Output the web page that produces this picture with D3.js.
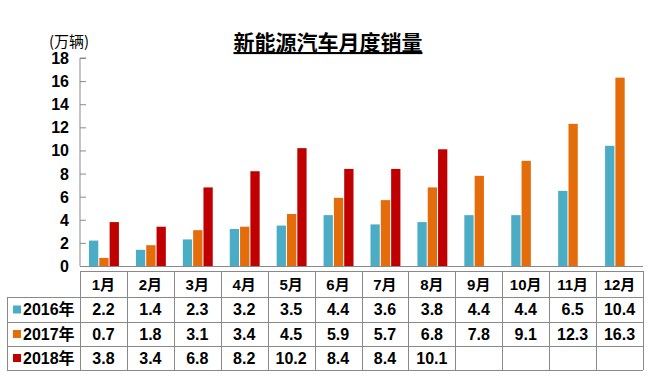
<!DOCTYPE html>
<meta charset="utf-8">
<title>新能源汽车月度销量</title>
<style>
  body { margin: 0; background: #fff; }
  text { font-family: "Liberation Sans", Arial, "Noto Sans CJK SC", sans-serif; }
</style>
<script src="https://cdn.jsdelivr.net/npm/d3@7"></script>
<body>
<div id="chart"></div>
<script>

// data
var months = ["1月","2月","3月","4月","5月","6月","7月","8月","9月","10月","11月","12月"];
var seriesNames = ["2016年", "2017年", "2018年"];
var sales2016 = [2.2, 1.4, 2.3, 3.2, 3.5, 4.4, 3.6, 3.8, 4.4, 4.4, 6.5, 10.4];
var sales2017 = [0.7, 1.8, 3.1, 3.4, 4.5, 5.9, 5.7, 6.8, 7.8, 9.1, 12.3, 16.3];
var sales2018 = [3.8, 3.4, 6.8, 8.2, 10.2, 8.4, 8.4, 10.1];
var yTicks = [0, 2, 4, 6, 8, 10, 12, 14, 16, 18];
var colors = ["#4bacc6", "#e46c0a", "#c00000"];

var allSeries = [sales2016, sales2017, sales2018];

var width = 655, height = 379;
var plot = {left: 80, right: 643, top: 58, bottom: 266};

var svg = d3.select("#chart").append("svg")
    .attr("width", width)
    .attr("height", height);

// title
svg.append("text")
    .attr("x", 328).attr("y", 50)
    .attr("text-anchor", "middle")
    .style("font-family", "'Noto Sans CJK SC', sans-serif")
    .style("font-size", "21px")
    .style("font-weight", "bold")
    .style("text-decoration", "underline")
    .text("新能源汽车月度销量");

// unit label
svg.append("text")
    .attr("x", 49).attr("y", 47)
    .style("font-family", "'Noto Sans CJK SC', sans-serif")
    .style("font-size", "15px")
    .text("(万辆)");

// scales
var x = d3.scaleBand()
    .domain(months)
    .range([plot.left, plot.right]);

var xSub = d3.scaleBand()
    .domain(seriesNames)
    .range([9, x.bandwidth() - 8])
    .paddingInner(0.1);

var y = d3.scaleLinear()
    .domain([0, 18])
    .range([plot.bottom, plot.top]);

// y axis (ticks pointing inward)
var yAxis = svg.append("g")
    .attr("transform", "translate(" + plot.left + ",0)")
    .call(d3.axisRight(y).tickValues(yTicks).tickSize(6).tickFormat(""));
yAxis.select(".domain").attr("stroke", "#898989").attr("d", "M6," + plot.top + "H0V" + plot.bottom);
yAxis.selectAll(".tick line").attr("stroke", "#898989");

svg.append("g").selectAll("text")
    .data(yTicks)
    .enter().append("text")
    .attr("x", 69)
    .attr("y", function(d) { return y(d) + 6; })
    .attr("text-anchor", "end")
    .style("font-size", "16px")
    .style("font-weight", "bold")
    .text(function(d) { return d; });

// bars
svg.append("g")
  .selectAll("g")
  .data(months)
  .enter().append("g")
    .attr("transform", function(d) { return "translate(" + x(d) + ",0)"; })
  .selectAll("rect")
  .data(function(m, i) {
      return seriesNames.map(function(s, k) { return {key: s, k: k, value: allSeries[k][i]}; })
          .filter(function(d) { return d.value != null; });
  })
  .enter().append("rect")
    .attr("x", function(d) { return xSub(d.key); })
    .attr("y", function(d) { return y(d.value); })
    .attr("width", xSub.bandwidth())
    .attr("height", function(d) { return y(0) - y(d.value); })
    .attr("fill", function(d) { return colors[d.k]; });

// x baseline
svg.append("line")
    .attr("x1", plot.left).attr("x2", plot.right)
    .attr("y1", plot.bottom + 0.5).attr("y2", plot.bottom + 0.5)
    .attr("stroke", "#898989");

// data table
var rowEdges = [271, 297, 322, 346, 370];
var labelLeft = 7;
var grid = svg.append("g").attr("stroke", "#898989").attr("fill", "none");

// horizontal lines
rowEdges.forEach(function(yy, i) {
  grid.append("line")
      .attr("x1", i === 0 ? plot.left : labelLeft).attr("x2", plot.right)
      .attr("y1", yy + 0.5).attr("y2", yy + 0.5);
});
// vertical lines
months.concat(["end"]).forEach(function(m, i) {
  var xx = i < months.length ? x(m) : plot.right;
  grid.append("line")
      .attr("x1", Math.round(xx) + 0.5).attr("x2", Math.round(xx) + 0.5)
      .attr("y1", rowEdges[0]).attr("y2", rowEdges[4]);
});
grid.append("line")
    .attr("x1", labelLeft + 0.5).attr("x2", labelLeft + 0.5)
    .attr("y1", rowEdges[1]).attr("y2", rowEdges[4]);

// header row
svg.append("g").selectAll("text")
    .data(months)
    .enter().append("text")
    .attr("x", function(d) { return x(d) + x.bandwidth() / 2; })
    .attr("y", (rowEdges[0] + rowEdges[1]) / 2 + 5.5)
    .attr("text-anchor", "middle")
    .style("font-size", "15px")
    .style("font-weight", "bold")
    .text(function(d) { return d; });

// series rows
seriesNames.forEach(function(s, k) {
  var cy = (rowEdges[k + 1] + rowEdges[k + 2]) / 2;
  svg.append("rect")
      .attr("x", 13).attr("y", cy - 4)
      .attr("width", 8).attr("height", 8)
      .attr("fill", colors[k]);
  svg.append("text")
      .attr("x", 23).attr("y", cy + 5.5)
      .style("font-size", "16px")
      .style("font-weight", "bold")
      .text(s);
  svg.append("g").selectAll("text")
      .data(allSeries[k])
      .enter().append("text")
      .attr("x", function(d, i) { return x(months[i]) + x.bandwidth() / 2; })
      .attr("y", cy + 5.5)
      .attr("text-anchor", "middle")
      .style("font-size", "16px")
      .style("font-weight", "bold")
      .text(function(d) { return d.toFixed(1); });
});

</script>
</body>
